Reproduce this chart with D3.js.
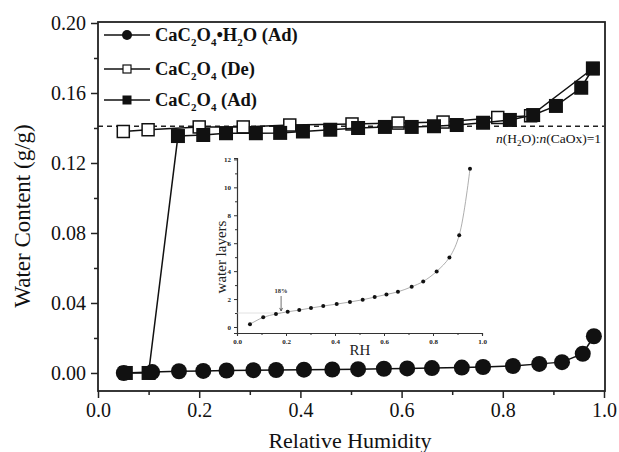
<!DOCTYPE html>
<html>
<head>
<meta charset="utf-8">
<script src="https://cdn.jsdelivr.net/npm/d3@7"></script>
<style>
  body { margin: 0; background: #fff; }
  svg { display: block; }
  svg text { font-family: "Liberation Serif", "Times New Roman", serif !important; }
</style>
</head>
<body>
<svg id="chart" width="619" height="452"></svg>
<script>
// CaC2O4•H2O adsorption (circles)
const monoRH = [0.051, 0.107, 0.160, 0.208, 0.254, 0.307, 0.352, 0.407, 0.463, 0.514, 0.565, 0.611, 0.660, 0.719, 0.761, 0.820, 0.872, 0.917, 0.958, 0.980];
const monoW  = [0.0000, 0.0005, 0.0010, 0.0012, 0.0014, 0.0016, 0.0017, 0.0019, 0.0020, 0.0022, 0.0024, 0.0026, 0.0028, 0.0031, 0.0034, 0.0040, 0.0052, 0.0062, 0.0110, 0.0210];

// CaC2O4 desorption (open squares), in measuring order
const deRH = [0.978, 0.855, 0.790, 0.682, 0.593, 0.502, 0.379, 0.287, 0.200, 0.099, 0.050];
const deW  = [0.1740, 0.1470, 0.1460, 0.1434, 0.1428, 0.1423, 0.1417, 0.1406, 0.1406, 0.1390, 0.1380];

// CaC2O4 adsorption (filled squares)
const adRH = [0.055, 0.100, 0.158, 0.208, 0.253, 0.312, 0.360, 0.405, 0.459, 0.514, 0.567, 0.620, 0.664, 0.709, 0.761, 0.814, 0.860, 0.905, 0.955, 0.978];
const adW  = [0.0000, 0.0000, 0.1354, 0.1360, 0.1370, 0.1370, 0.1372, 0.1380, 0.1390, 0.1400, 0.1406, 0.1406, 0.1410, 0.1417, 0.1430, 0.1446, 0.1474, 0.1526, 0.1630, 0.1740];

const ratioLine = 0.141;

// inset: water layers vs RH
const insetRH = [0.053, 0.107, 0.159, 0.207, 0.254, 0.302, 0.352, 0.407, 0.461, 0.513, 0.562, 0.610, 0.657, 0.713, 0.760, 0.815, 0.867, 0.907, 0.951];
const insetLayers = [0.20, 0.69, 0.93, 1.09, 1.21, 1.36, 1.50, 1.64, 1.79, 1.95, 2.14, 2.33, 2.52, 2.88, 3.26, 3.98, 4.98, 6.57, 11.33];

const xTicks = [0, 0.2, 0.4, 0.6, 0.8, 1.0];
const yTicks = [0, 0.04, 0.08, 0.12, 0.16, 0.20];
const insetYTicks = [0, 2, 4, 6, 8, 10, 12];

const svg = d3.select('#chart');

const x = d3.scaleLinear().domain([0, 1]).range([98, 604]);
const y = d3.scaleLinear().domain([-0.0103, 0.2]).range([391, 23]);

// frame
svg.append('rect')
  .attr('x', 98).attr('y', 22).attr('width', 507).attr('height', 369)
  .attr('fill', 'none').attr('stroke', '#222').attr('stroke-width', 1.8);

// main axes, ticks outward
const xAxis = svg.append('g').attr('class', 'main').attr('transform', 'translate(0,391)')
  .call(d3.axisBottom(x).tickValues(xTicks).tickFormat(d3.format('.1f')).tickSize(7).tickPadding(5));
svg.append('g').attr('class', 'main').attr('transform', 'translate(0,391)')
  .call(d3.axisBottom(x).tickValues([0.1, 0.3, 0.5, 0.7, 0.9]).tickFormat('').tickSize(4));
const yAxis = svg.append('g').attr('class', 'main').attr('transform', 'translate(98,0)')
  .call(d3.axisLeft(y).tickValues(yTicks).tickFormat(d3.format('.2f')).tickSize(7).tickPadding(5));
svg.append('g').attr('class', 'main').attr('transform', 'translate(98,0)')
  .call(d3.axisLeft(y).tickValues([0.02, 0.06, 0.10, 0.14, 0.18]).tickFormat('').tickSize(4));

svg.selectAll('g.main .domain').remove();
svg.selectAll('g.main .tick line').attr('stroke', '#222').attr('stroke-width', 1.5);
[xAxis, yAxis].forEach(g => g.selectAll('text').attr('font-size', 20).attr('fill', '#111'));

// axis titles
svg.append('text').attr('x', 350).attr('y', 448).attr('text-anchor', 'middle')
  .attr('font-size', 22).attr('fill', '#111').text('Relative Humidity');
svg.append('text').attr('transform', 'translate(30,216) rotate(-90)').attr('text-anchor', 'middle')
  .attr('font-size', 23).attr('fill', '#111').text('Water Content (g/g)');

// dashed reference line
svg.append('line')
  .attr('x1', x(0)).attr('x2', x(1)).attr('y1', y(ratioLine)).attr('y2', y(ratioLine))
  .attr('stroke', '#222').attr('stroke-width', 1.3).attr('stroke-dasharray', '5,4');

const refLabel = svg.append('text').attr('x', 601).attr('y', 143).attr('text-anchor', 'end')
  .attr('font-size', 13.5).attr('fill', '#111');
refLabel.append('tspan').attr('font-style', 'italic').text('n');
refLabel.append('tspan').text('(H');
refLabel.append('tspan').attr('font-size', 9).attr('dy', 3).text('2');
refLabel.append('tspan').attr('dy', -3).text('O):');
refLabel.append('tspan').attr('font-style', 'italic').text('n');
refLabel.append('tspan').text('(CaOx)=1');

// inset
const ix = d3.scaleLinear().domain([0, 1]).range([237, 482]);
const iy = d3.scaleLinear().domain([-0.43, 12.1]).range([333, 158]);

const ixAxis = svg.append('g').attr('class', 'inset').attr('transform', 'translate(0,333)')
  .call(d3.axisBottom(ix).tickValues(xTicks).tickFormat(d3.format('.1f')).tickSize(3).tickPadding(3));
svg.append('g').attr('class', 'inset').attr('transform', 'translate(0,333)')
  .call(d3.axisBottom(ix).tickValues([0.1, 0.3, 0.5, 0.7, 0.9]).tickFormat('').tickSize(2));
const iyAxis = svg.append('g').attr('class', 'inset').attr('transform', 'translate(237,0)')
  .call(d3.axisLeft(iy).tickValues(insetYTicks).tickSize(3).tickPadding(3));
svg.append('g').attr('class', 'inset').attr('transform', 'translate(237,0)')
  .call(d3.axisLeft(iy).tickValues([1, 3, 5, 7, 9, 11]).tickFormat('').tickSize(2));

svg.selectAll('g.inset .domain').attr('stroke', '#333').attr('stroke-width', 1.1);
svg.selectAll('g.inset .tick line').attr('stroke', '#333').attr('stroke-width', 1);
[ixAxis, iyAxis].forEach(g => {
  g.selectAll('text').attr('font-size', 7).attr('font-weight', 'bold').attr('fill', '#222');
});

svg.append('text').attr('x', 360).attr('y', 355).attr('text-anchor', 'middle')
  .attr('font-size', 15).attr('fill', '#222').text('RH');
svg.append('text').attr('transform', 'translate(226,257) rotate(-90)').attr('text-anchor', 'middle')
  .attr('font-size', 15).attr('fill', '#222').text('water layers');

// faint guide at one layer
svg.append('line')
  .attr('x1', ix(0)).attr('x2', ix(0.18)).attr('y1', iy(1)).attr('y2', iy(1))
  .attr('stroke', '#ccc').attr('stroke-width', 0.6);

const insetPts = insetRH.map((r, i) => [r, insetLayers[i]]);
svg.append('path').datum(insetPts)
  .attr('d', d3.line().x(d => ix(d[0])).y(d => iy(d[1])).curve(d3.curveCatmullRom.alpha(0.5)))
  .attr('fill', 'none').attr('stroke', '#999').attr('stroke-width', 0.8);
svg.append('g').selectAll('circle').data(insetPts).join('circle')
  .attr('cx', d => ix(d[0])).attr('cy', d => iy(d[1])).attr('r', 2).attr('fill', '#111');

// 18% marker
svg.append('text').attr('x', ix(0.18)).attr('y', 293).attr('text-anchor', 'middle')
  .attr('font-size', 6.5).attr('font-weight', 'bold').attr('fill', '#333').text('18%');
svg.append('line').attr('x1', ix(0.18)).attr('x2', ix(0.18)).attr('y1', 296).attr('y2', iy(1.15))
  .attr('stroke', '#333').attr('stroke-width', 0.7);
svg.append('path')
  .attr('d', `M${ix(0.18) - 1.5},${iy(1.15) - 3} L${ix(0.18)},${iy(1.15)} L${ix(0.18) + 1.5},${iy(1.15) - 3}`)
  .attr('fill', 'none').attr('stroke', '#333').attr('stroke-width', 0.7);

// main series
const line = d3.line().x(d => x(d[0])).y(d => y(d[1]));
const deData = deRH.map((r, i) => [r, deW[i]]);
const adData = adRH.map((r, i) => [r, adW[i]]);
const monoData = monoRH.map((r, i) => [r, monoW[i]]);

function drawLine(data) {
  svg.append('path').datum(data).attr('d', line)
    .attr('fill', 'none').attr('stroke', '#111').attr('stroke-width', 1.5);
}

drawLine(deData);
svg.append('g').selectAll('rect').data(deData).join('rect')
  .attr('x', d => x(d[0]) - 6).attr('y', d => y(d[1]) - 6).attr('width', 12).attr('height', 12)
  .attr('fill', '#fff').attr('stroke', '#111').attr('stroke-width', 1.5);

drawLine(adData);
svg.append('g').selectAll('rect').data(adData).join('rect')
  .attr('x', d => x(d[0]) - 7).attr('y', d => y(d[1]) - 7).attr('width', 14).attr('height', 14)
  .attr('fill', '#111');

drawLine(monoData);
svg.append('g').selectAll('circle').data(monoData).join('circle')
  .attr('cx', d => x(d[0])).attr('cy', d => y(d[1])).attr('r', 8).attr('fill', '#111');

// legend
const legend = svg.append('g').attr('font-size', 18.5).attr('font-weight', 'bold').attr('fill', '#111');
const rows = [
  { y: 35, mark: 'circle', parts: [['CaC', 0], ['2', 1], ['O', 0], ['4', 1], ['\u2022H', 0], ['2', 1], ['O (Ad)', 0]] },
  { y: 69, mark: 'open', parts: [['CaC', 0], ['2', 1], ['O', 0], ['4', 1], [' (De)', 0]] },
  { y: 100, mark: 'square', parts: [['CaC', 0], ['2', 1], ['O', 0], ['4', 1], [' (Ad)', 0]] }
];
rows.forEach(row => {
  legend.append('line').attr('x1', 104).attr('x2', 150).attr('y1', row.y).attr('y2', row.y)
    .attr('stroke', '#111').attr('stroke-width', 1.5);
  if (row.mark === 'circle') {
    legend.append('circle').attr('cx', 127).attr('cy', row.y).attr('r', 5).attr('fill', '#111');
  } else if (row.mark === 'open') {
    legend.append('rect').attr('x', 123).attr('y', row.y - 4).attr('width', 8).attr('height', 8)
      .attr('fill', '#fff').attr('stroke', '#111').attr('stroke-width', 1.2);
  } else {
    legend.append('rect').attr('x', 122.5).attr('y', row.y - 4.5).attr('width', 9).attr('height', 9)
      .attr('fill', '#111');
  }
  const t = legend.append('text').attr('x', 155).attr('y', row.y + 6);
  let sub = 0;
  row.parts.forEach(p => {
    const ts = t.append('tspan').text(p[0]);
    if (p[1] && !sub) { ts.attr('dy', 5).attr('font-size', 11); sub = 1; }
    else if (p[1] && sub) { ts.attr('font-size', 11); }
    else if (!p[1] && sub) { ts.attr('dy', -5); sub = 0; }
  });
});
</script>
</body>
</html>
